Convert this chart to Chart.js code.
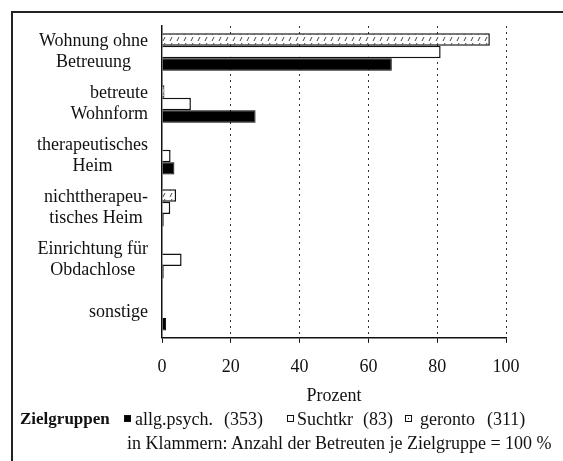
<!DOCTYPE html>
<html><head><meta charset="utf-8">
<script src="https://cdn.jsdelivr.net/npm/chart.js@4/dist/chart.umd.min.js"></script>
<style>
html,body{margin:0;padding:0;background:#fff;}
body{width:563px;height:461px;position:relative;overflow:hidden;font-family:"Liberation Serif","Times New Roman",serif;color:#111;}
#frame{position:absolute;left:11px;top:11px;width:600px;height:500px;border-left:2px solid #222;border-top:2px solid #222;box-sizing:border-box;}
#wrap{position:absolute;left:0;top:0;width:563px;height:420px;}
.lg{position:absolute;font-size:18px;line-height:22px;white-space:nowrap;}
.zg{font-weight:bold;font-size:17px;}
.mk{position:absolute;width:7px;height:7px;box-sizing:border-box;border:1px solid #111;}
</style>
</head><body>
<div id="frame"></div>
<div id="wrap"><canvas id="c" width="563" height="420"></canvas></div>
<div id="legend"></div>
<script>
const categories = [["Wohnung ohne","Betreuung"],["betreute","Wohnform"],["therapeutisches","Heim"],["nichttherapeu-","tisches Heim"],["Einrichtung für","Obdachlose"],"sonstige"];
const seriesNames = ["allg.psych.", "Suchtkr", "geronto"];
const seriesCounts = [353, 83, 311];
const allgPsych = [66.8, 27.2, 3.6, 0.5, 0.5, 1.2];
const suchtkr   = [81.0, 8.4, 2.5, 2.4, 5.7, 0];
const geronto   = [95.3, 0.7, 0, 4.1, 0, 0];
const xTicks = [0, 20, 40, 60, 80, 100];
const xTitle = "Prozent";
const legendTitle = "Zielgruppen";
const noteText = "in Klammern: Anzahl der Betreuten je Zielgruppe = 100 %";

// label alignment style (per category)
const labelAlign = ['center','right','center','center','center','right'];
const FONT = '"Liberation Serif", "Times New Roman", serif';

// hatched pattern for geronto
const pc = document.createElement('canvas');
pc.width = 7; pc.height = 6;
const px = pc.getContext('2d');
px.fillStyle = '#fff'; px.fillRect(0,0,7,6);
px.strokeStyle = '#444'; px.lineWidth = 1;
px.beginPath(); px.moveTo(2,5); px.lineTo(4,1); px.stroke();

const ctx = document.getElementById('c').getContext('2d');
const gerontoFill = ctx.createPattern(pc, 'repeat');

const yLabelPlugin = {
  id: 'yLabels',
  afterDraw(chart) {
    const s = chart.scales.y;
    const c = chart.ctx;
    c.save();
    c.font = '18px ' + FONT;
    c.fillStyle = '#111';
    c.textBaseline = 'middle';
    const right = s.right - 14;
    const lh = 21;
    chart.data.labels.forEach((lab, i) => {
      const lines = Array.isArray(lab) ? lab : [lab];
      const bw = Math.max(...lines.map(l => c.measureText(l).width));
      const cy = s.getPixelForValue(i);
      lines.forEach((l, j) => {
        const ty = cy + (j - (lines.length - 1) / 2) * lh;
        if (labelAlign[i] === 'center') { c.textAlign = 'center'; c.fillText(l, right - bw / 2, ty); }
        else { c.textAlign = 'right'; c.fillText(l, right, ty); }
      });
    });
    c.restore();
  }
};

new Chart(ctx, {
  type: 'bar',
  data: {
    labels: categories,
    datasets: [
      {label: seriesNames[2], data: geronto, backgroundColor: gerontoFill, borderColor: '#111', borderWidth: 1.5},
      {label: seriesNames[1], data: suchtkr, backgroundColor: '#fff', borderColor: '#111', borderWidth: 1.5},
      {label: seriesNames[0], data: allgPsych, backgroundColor: '#000', borderColor: '#000', borderWidth: 1}
    ]
  },
  options: {
    indexAxis: 'y',
    responsive: false,
    animation: false,
    devicePixelRatio: 1,
    layout: {padding: {left: 12, right: 57, top: 26, bottom: 13}},
    datasets: {bar: {categoryPercentage: 0.72, barPercentage: 1}},
    plugins: {legend: {display: false}, tooltip: {enabled: false}},
    scales: {
      x: {
        min: 0, max: 100,
        afterBuildTicks: s => { s.ticks = xTicks.map(v => ({value: v})); },
        grid: {
          color: c => (c.tick && c.tick.value === 0) ? 'rgba(0,0,0,0)' : '#333',
          lineWidth: 1,
          tickLength: 5, tickColor: '#111', tickBorderDash: []
        },
        border: {display: true, color: '#111', width: 1.5, dash: [2, 4]},
        ticks: {color: '#111', padding: 14, font: {family: FONT, size: 18}},
        title: {display: true, text: xTitle, color: '#111', padding: {top: -7, bottom: 0}, font: {family: FONT, size: 18}}
      },
      y: {
        afterFit: s => { s.width = 150; },
        grid: {display: false, drawTicks: false},
        border: {display: true, color: '#111', width: 1.5},
        ticks: {display: false}
      }
    }
  },
  plugins: [yLabelPlugin]
});

// HTML legend: order allg.psych, Suchtkr, geronto
const legend = document.getElementById('legend');
function addText(txt, left, cy, cls) {
  const d = document.createElement('div');
  d.className = 'lg' + (cls ? ' ' + cls : '');
  d.textContent = txt;
  d.style.left = left + 'px';
  d.style.top = (cy - 11) + 'px';
  legend.appendChild(d);
}
const rowY = 419, noteY = 443;
addText(legendTitle, 20, rowY, 'zg');
const markerX = [124, 287, 405];
const nameX = [135, 297, 420];
const countX = [224, 363, 487];
const markerCss = ['background:#000;', 'background:#fff;', 'background:#fff;'];
seriesNames.forEach((n, i) => {
  const mk = document.createElement('div');
  mk.className = 'mk';
  mk.style.cssText = markerCss[i] + 'left:' + markerX[i] + 'px;top:' + (rowY - 4) + 'px;';
  if (i === 2) {
    const d = document.createElement('div');
    d.style.cssText = 'position:absolute;left:2px;top:2px;width:1px;height:1px;background:#111;';
    mk.appendChild(d);
  }
  legend.appendChild(mk);
  addText(n, nameX[i], rowY);
  addText('(' + seriesCounts[i] + ')', countX[i], rowY);
});
addText(noteText, 127, noteY);
</script>
</body></html>
